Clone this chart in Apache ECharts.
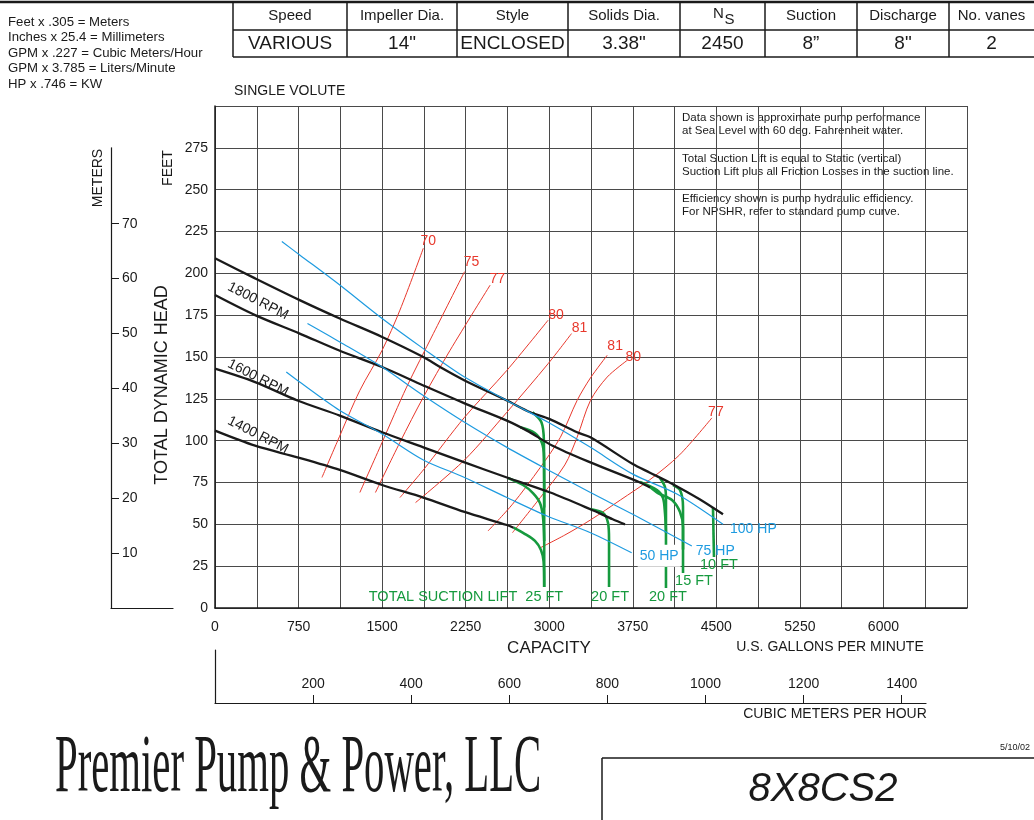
<!DOCTYPE html>
<html><head><meta charset="utf-8">
<script src="https://cdn.jsdelivr.net/npm/echarts@6/dist/echarts.min.js"></script>
<style>html,body{margin:0;padding:0;background:#fff}#c{width:1034px;height:820px}</style>
</head><body><div id="c"></div>
<script>
// ---------------- DATA ----------------
const tableHeaders = ['Speed', 'Impeller Dia.', 'Style', 'Solids Dia.', 'N', 'Suction', 'Discharge', 'No. vanes'];
const tableValues = ['VARIOUS', '14"', 'ENCLOSED', '3.38"', '2450', '8\u201D', '8"', '2'];
const conversionNotes = ['Feet x .305 = Meters', 'Inches x 25.4 = Millimeters', 'GPM x .227 = Cubic Meters/Hour', 'GPM x 3.785 = Liters/Minute', 'HP x .746 = KW'];
const chartNotes = [
  ['Data shown is approximate pump performance', 'at Sea Level with 60 deg. Fahrenheit water.'],
  ['Total Suction Lift is equal to Static (vertical)', 'Suction Lift plus all Friction Losses in the suction line.'],
  ['Efficiency shown is pump hydraulic efficiency.', 'For NPSHR, refer to standard pump curve.']
];
const gpmMax = 6750, gpmStep = 375, gpmLabelStep = 750, gpmLabelMax = 6000;
const headMax = 300, headStep = 25, headLabelMax = 275;
const meterTicks = [10, 20, 30, 40, 50, 60, 70];
const cmhTicks = [200, 400, 600, 800, 1000, 1200, 1400];
const rpmLabels = ['1800 RPM', '1600 RPM', '1400 RPM'];

// head-capacity curves [GPM, ft]
const rpm1800a = [[0,209],[360,197],[760,184],[1120,173],[1500,162],[1870,150],[2020,144],[2240,136],[2620,124],[2830,117],[3000,113],[3250,105],[3370,102],[3750,86],[3900,81],[4110,74],[4350,65],[4560,56]];
const rpm1800b = [[0,187],[360,175],[760,164],[1110,154],[1500,144],[1870,133],[2250,122],[2620,112],[2800,106],[3030,97],[3370,87],[3815,75],[3905,72]];
const rpm1600 = [[0,143],[360,135],[740,124],[1120,115],[1500,105],[1870,96],[2240,87],[2620,78],[3010,69],[3370,59],[3570,53],[3680,50]];
const rpm1400 = [[0,106],[360,97],[740,90],[1120,82.5],[1500,73.5],[1870,66],[2240,57.4],[2620,49.6],[2680,48]];

// horsepower lines
const hp100 = [[600,219],[760,211],[1120,193],[1500,173],[1870,155],[2240,138],[2620,124],[2990,111],[3370,96],[3750,80],[4150,68],[4560,50]];
const hp75 = [[830,170],[1120,159],[1500,144],[1870,127],[2240,111],[2620,96],[2990,82.5],[3370,69],[3750,56],[4280,37]];
const hp50 = [[640,141],[760,135],[1120,118],[1500,104],[1870,88.5],[2240,78],[2620,66],[2980,55],[3370,45],[3740,33]];

// efficiency lines
const eff70 = [[960,78],[1095,99],[1300,130],[1500,154],[1660,178],[1870,215]];
const eff75 = [[1300,69],[1500,99],[1720,132],[1960,164],[2240,201]];
const eff77 = [[1440,69],[1660,99],[1870,126],[2110,154],[2470,193]];
const eff80 = [[1660,66],[1870,82.5],[2240,114],[2620,142],[2990,172]];
const eff81 = [[1800,63],[2240,88.5],[2620,117],[2990,146],[3200,164]];
const eff81b = [[2450,46],[2670,62],[2920,84],[3100,102],[3250,124],[3370,137.5],[3520,151]];
const eff80b = [[2670,45],[2920,66],[3140,85.5],[3250,102],[3370,124],[3520,138],[3700,148]];
const eff77b = [[2920,36],[3140,43.6],[3370,52.6],[3640,64.6],[3900,76.5],[4170,91.5],[4460,113.6]];

// total suction lift curves
const sl25a = [[2850,117],[2930,111],[2952,100],[2955,60],[2955,12.6]];
const sl25b = [[2740,108],[2870,104.6],[2935,98.6],[2953,90],[2955,60]];
const sl25c = [[2630,77.7],[2765,73.5],[2854,68.7],[2917,62.8],[2944,54.4],[2955,40]];
const sl25d = [[2680,48],[2783,44.2],[2872,40.1],[2926,34.7],[2950,27.5],[2955,12.6]];
const sl20c = [[3366,59.2],[3483,56.8],[3528,50.8],[3537,40.6],[3537,12.6]];
const sl20a = [[3994,77.7],[4039,72.3],[4048,64.6],[4048,12.0]];
const sl20b = [[3815,75.3],[3967,70.5],[4021,65.8],[4039,56.8],[4048,45]];
const sl15a = [[4111,73.5],[4174,70.5],[4201,60.4],[4201,20.9]];
const sl15b = [[3905,72.3],[3976,68.7],[4102,64.6],[4174,57.4],[4201,48.4],[4201,35]];
const sl10a = [[4470,59.8],[4479,30.5]];

// ---------------- LAYOUT / STYLE ----------------
const FONT = '"Liberation Sans", Arial, Helvetica, sans-serif';
const BLACK = '#1a1a1a', GREEN = '#169a3e', BLUE = '#1e9be0', RED = '#e8382c', GRIDC = '#4a4a4a';
const FT_TO_M = 0.3048, GPM_TO_CMH = 0.22712;

const P = { left: 215, top: 106, width: 752, height: 502 };
const cmhWidth = 711;

function ln(series, data, color, width, z, labelText, labelOpt, fs) {
  const d = data.map((p, i) => (i === data.length - 1 && labelText) ?
    { value: p, label: Object.assign({ show: true, formatter: labelText, color: color, fontSize: fs || 14, fontFamily: FONT }, labelOpt) } : p);
  series.push({
    type: 'line', xAxisIndex: 0, yAxisIndex: 0, data: d, smooth: 0.3,
    symbol: 'circle', symbolSize: 0, showSymbol: true, silent: true, z: z,
    lineStyle: { color: color, width: width }, itemStyle: { color: color },
    label: { show: false }, emphasis: { disabled: true }
  });
}

const series = [];
const effLab = (off) => ({ position: 'top', distance: 0, offset: off });
ln(series, eff70, RED, 1, 2, '70', effLab([5, 0]));
ln(series, eff75, RED, 1, 2, '75', effLab([7, -3]));
ln(series, eff77, RED, 1, 2, '77', effLab([7, 1]));
ln(series, eff80, RED, 1, 2, '80', effLab([8, 2]));
ln(series, eff81, RED, 1, 2, '81', effLab([8, 2]));
ln(series, eff81b, RED, 1, 2, '81', effLab([8, -2]));
ln(series, eff80b, RED, 1, 2, '80', effLab([6, 4]));
ln(series, eff77b, RED, 1, 2, '77', effLab([4, 1]));

const slLab = (off, extra) => Object.assign({ position: 'bottom', distance: 0, offset: off }, extra || {});
ln(series, sl25a, GREEN, 2.6, 3);
ln(series, sl25b, GREEN, 2.6, 3);
ln(series, sl25c, GREEN, 2.6, 3);
ln(series, sl25d, GREEN, 2.6, 3, 'TOTAL SUCTION LIFT  25 FT', slLab([19, 3], { align: 'right' }), 14.5);
ln(series, sl20c, GREEN, 2.6, 3, '20 FT', slLab([1, 3]), 14.5);
ln(series, sl20a, GREEN, 2.6, 3, '20 FT', slLab([2, 2]), 14.5);
ln(series, sl20b, GREEN, 2.6, 3);
ln(series, sl15a, GREEN, 2.6, 3, '15 FT', slLab([11, 0]), 14.5);
ln(series, sl15b, GREEN, 2.6, 3);
ln(series, sl10a, GREEN, 2.6, 3, '10 FT', slLab([5, 1]), 14.5);

ln(series, rpm1800a, BLACK, 2.3, 4);
ln(series, rpm1800b, BLACK, 2.3, 4);
ln(series, rpm1600, BLACK, 2.3, 4);
ln(series, rpm1400, BLACK, 2.3, 4);

const hpLab = (off, extra) => Object.assign({ position: 'right', distance: 0, offset: off }, extra || {});
ln(series, hp100, BLUE, 1.2, 5, '100 HP', hpLab([7, 5]));
ln(series, hp75, BLUE, 1.2, 5, '75 HP', hpLab([4, 5]));
ln(series, hp50, BLUE, 1.2, 5, '50 HP', hpLab([6, 3], { backgroundColor: '#fff', padding: [4, 2, 4, 2] }));

// ---------------- GRAPHICS ----------------
const g = [];
const txt = (x, y, text, size, opt) => g.push(Object.assign({ type: 'text', x: x, y: y, silent: true,
  style: Object.assign({ text: text, fontSize: size, fontFamily: FONT, fill: '#1a1a1a', align: 'left', verticalAlign: 'middle' }, (opt && opt.style) || {}) },
  opt && opt.el || {}));
const seg = (x1, y1, x2, y2, w) => g.push({ type: 'line', silent: true, shape: { x1: x1, y1: y1, x2: x2, y2: y2 }, style: { stroke: '#1a1a1a', lineWidth: w || 1.5 } });

// top rule and table
seg(0, 2, 1034, 2, 2.5);
const colEdges = [233, 347, 457, 568, 680, 765, 857, 949, 1034];
colEdges.slice(0, 8).forEach(x => seg(x, 2, x, 57, 1.5));
seg(233, 30, 1034, 30, 1.5);
seg(233, 57, 1034, 57, 1.5);
tableHeaders.forEach((h, i) => {
  const cx = (colEdges[i] + colEdges[i + 1]) / 2;
  if (h === 'N') {
    txt(cx - 4, 14, 'N', 15, { style: { align: 'center' } });
    txt(cx + 7, 20, 'S', 15, { style: { align: 'center' } });
  } else txt(cx, 16, h, 15, { style: { align: 'center' } });
  txt(cx, 44, tableValues[i], 19, { style: { align: 'center' } });
});
conversionNotes.forEach((t, i) => txt(8, 22 + i * 15.5, t, 13.2));
chartNotes.forEach((pair, k) => pair.forEach((t, j) => txt(682, 118 + k * 40.5 + j * 13, t, 11.5)));

txt(234, 91, 'SINGLE VOLUTE', 14);
txt(98, 178, 'METERS', 14, { style: { align: 'center' }, el: { rotation: Math.PI / 2 } });
txt(168, 168, 'FEET', 14, { style: { align: 'center' }, el: { rotation: Math.PI / 2 } });
txt(162, 385, 'TOTAL DYNAMIC HEAD', 18, { style: { align: 'center' }, el: { rotation: Math.PI / 2 } });
txt(549, 648, 'CAPACITY', 17, { style: { align: 'center' } });
txt(830, 647, 'U.S. GALLONS PER MINUTE', 14, { style: { align: 'center' } });
txt(835, 714, 'CUBIC METERS PER HOUR', 14, { style: { align: 'center' } });

const rpmPos = [[258, 301], [258, 378], [258, 435]];
rpmLabels.forEach((t, i) => txt(rpmPos[i][0], rpmPos[i][1], t, 14, { style: { align: 'center' }, el: { rotation: -0.47 } }));

// title block
txt(55, 769, 'Premier Pump & Power, LLC', 82, { style: { fontFamily: '"Liberation Serif", "Times New Roman", serif' }, el: { scaleX: 0.497 } });
seg(602, 758, 1034, 758, 1.5);
seg(602, 758, 602, 820, 1.5);
txt(823, 790, '8X8CS2', 40, { style: { align: 'center', fontStyle: 'italic' } });
txt(1015, 748, '5/10/02', 9, { style: { align: 'center' } });

// ---------------- CHART ----------------
const axisTxt = { color: '#1a1a1a', fontSize: 14, fontFamily: FONT };
const chart = echarts.init(document.getElementById('c'), null, { renderer: 'canvas' });
chart.setOption({
  animation: false,
  backgroundColor: '#fff',
  grid: [
    { left: P.left, top: P.top, width: P.width, height: P.height },
    { left: 111, top: P.top + P.height * (headMax - headLabelMax) / headMax, width: 62, height: P.height * headLabelMax / headMax },
    { left: P.left, top: 650, width: cmhWidth, height: 53 }
  ],
  xAxis: [
    { type: 'value', gridIndex: 0, min: 0, max: gpmMax, interval: gpmStep,
      axisLine: { show: true, lineStyle: { color: '#1a1a1a', width: 1.5 } }, axisTick: { show: false },
      axisLabel: Object.assign({ margin: 12, formatter: v => (v % gpmLabelStep === 0 && v <= gpmLabelMax) ? String(v) : '' }, axisTxt),
      splitLine: { show: true, lineStyle: { color: GRIDC, width: 1 } } },
    { type: 'value', gridIndex: 1, min: 0, max: 1, axisLine: { show: true, lineStyle: { color: '#1a1a1a', width: 1.2 } },
      axisTick: { show: false }, axisLabel: { show: false }, splitLine: { show: false } },
    { type: 'value', gridIndex: 2, min: 0, max: cmhWidth * (gpmMax / P.width) * GPM_TO_CMH, position: 'bottom',
      axisLine: { show: true, lineStyle: { color: '#1a1a1a', width: 1.2 } },
      axisTick: { show: true, inside: true, length: 8, customValues: cmhTicks, lineStyle: { color: '#1a1a1a' } },
      axisLabel: Object.assign({ inside: true, margin: 12, customValues: cmhTicks, formatter: v => cmhTicks.includes(v) ? String(v) : '' }, axisTxt),
      splitLine: { show: false } }
  ],
  yAxis: [
    { type: 'value', gridIndex: 0, min: 0, max: headMax, interval: headStep,
      axisLine: { show: true, lineStyle: { color: '#1a1a1a', width: 1.5 } }, axisTick: { show: false },
      axisLabel: Object.assign({ margin: 7, formatter: v => v <= headLabelMax ? String(v) : '' }, axisTxt),
      splitLine: { show: true, lineStyle: { color: GRIDC, width: 1 } } },
    { type: 'value', gridIndex: 1, min: 0, max: headLabelMax * FT_TO_M,
      axisLine: { show: true, lineStyle: { color: '#1a1a1a', width: 1.2 } },
      axisTick: { show: true, inside: true, length: 8, customValues: meterTicks, lineStyle: { color: '#1a1a1a' } },
      axisLabel: Object.assign({ inside: true, margin: 11, customValues: meterTicks, formatter: v => meterTicks.includes(v) ? String(v) : '' }, axisTxt),
      splitLine: { show: false } },
    { type: 'value', gridIndex: 2, min: 0, max: 1, axisLine: { show: true, lineStyle: { color: '#1a1a1a', width: 1.2 } },
      axisTick: { show: false }, axisLabel: { show: false }, splitLine: { show: false } }
  ],
  series: series,
  graphic: g
});
</script></body></html>
